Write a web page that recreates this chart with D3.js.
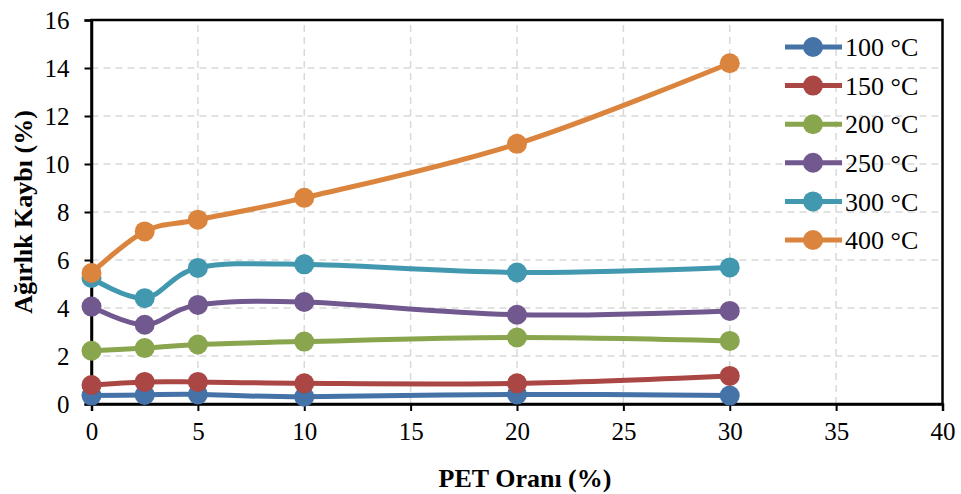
<!DOCTYPE html>
<html>
<head>
<meta charset="utf-8">
<script src="https://cdn.jsdelivr.net/npm/d3@7/dist/d3.min.js"></script>
<style>
  html, body { margin: 0; padding: 0; background: #fff; }
  svg { display: block; }
  svg text { font-family: "Liberation Serif", "Times New Roman", Tinos, "DejaVu Serif", serif !important; fill: #000; }
</style>
</head>
<body>
<svg id="chart" width="961" height="494"></svg>
<script>
// PET content (%) on the x axis
const petRatio = [0, 2.5, 5, 10, 20, 30];

// Weight loss (%) per temperature
const loss100 = [0.35, 0.38, 0.40, 0.30, 0.40, 0.35];
const loss150 = [0.79, 0.92, 0.92, 0.86, 0.86, 1.17];
const loss200 = [2.22, 2.33, 2.48, 2.60, 2.77, 2.63];
const loss250 = [4.06, 3.30, 4.13, 4.25, 3.72, 3.88];
const loss300 = [5.25, 4.41, 5.67, 5.82, 5.48, 5.69];
const loss400 = [5.46, 7.19, 7.68, 8.59, 10.84, 14.20];

const seriesNames = ["100 °C", "150 °C", "200 °C", "250 °C", "300 °C", "400 °C"];
const seriesColors = ["#4572A7", "#AA4643", "#89A54E", "#71588F", "#4198AF", "#DB843D"];

const xTicks = [0, 5, 10, 15, 20, 25, 30, 35, 40];
const yTicks = [0, 2, 4, 6, 8, 10, 12, 14, 16];

const xTitle = "PET Oranı (%)";
const yTitle = "Ağırlık Kaybı (%)";

const series = [loss100, loss150, loss200, loss250, loss300, loss400].map((vals, i) => ({
  name: seriesNames[i],
  color: seriesColors[i],
  points: vals.map((v, j) => ({ x: petRatio[j], y: v }))
}));

const svg = d3.select("#chart");
const margin = { left: 91.5, right: 18.5, top: 20, bottom: 90 };
const W = 961, H = 494;
const innerW = W - margin.left - margin.right;
const innerH = H - margin.top - margin.bottom;

const x = d3.scaleLinear().domain([0, 40]).range([margin.left, margin.left + innerW]);
const y = d3.scaleLinear().domain([0, 16]).range([margin.top + innerH, margin.top]);

// dashed gridlines
const grid = svg.append("g").attr("stroke", "#d9d9d9").attr("stroke-width", 1.5)
  .attr("stroke-dasharray", "7,5");
grid.selectAll("line.h").data(yTicks.filter(t => t > 0 && t < 16)).join("line")
  .attr("x1", x(0)).attr("x2", x(40)).attr("y1", d => y(d)).attr("y2", d => y(d));
grid.selectAll("line.v").data(xTicks.filter(t => t > 0 && t < 40)).join("line")
  .attr("y1", y(0)).attr("y2", y(16)).attr("x1", d => x(d)).attr("x2", d => x(d));

// frame
svg.append("rect")
  .attr("x", x(0)).attr("y", y(16)).attr("width", x(40) - x(0)).attr("height", y(0) - y(16))
  .attr("fill", "none").attr("stroke", "#000").attr("stroke-width", 2.5);

// axes
const xAxis = svg.append("g").attr("transform", `translate(0,${y(0)})`)
  .call(d3.axisBottom(x).tickValues(xTicks).tickSize(7).tickPadding(11).tickFormat(d3.format("d")));
const yAxis = svg.append("g").attr("transform", `translate(${x(0)},0)`)
  .call(d3.axisLeft(y).tickValues(yTicks).tickSize(7).tickPadding(15).tickFormat(d3.format("d")));
[xAxis, yAxis].forEach(a => {
  a.attr("font-family", null);
  a.select(".domain").attr("stroke", "#000").attr("stroke-width", 2.5);
  a.selectAll(".tick line").attr("stroke", "#000").attr("stroke-width", 2);
  a.selectAll(".tick text").attr("font-size", 25);
});

// series lines (smoothed) and markers
const line = d3.line().x(d => x(d.x)).y(d => y(d.y)).curve(d3.curveCardinal.tension(0));
const sg = svg.append("g");
series.forEach(s => {
  sg.append("path").attr("d", line(s.points)).attr("fill", "none")
    .attr("stroke", s.color).attr("stroke-width", 5).attr("stroke-linejoin", "round");
});
series.forEach(s => {
  sg.selectAll(null).data(s.points).join("circle")
    .attr("cx", d => x(d.x)).attr("cy", d => y(d.y)).attr("r", 10).attr("fill", s.color);
});

// legend
const lg = svg.append("g").attr("transform", "translate(785,47)");
series.forEach((s, i) => {
  const g = lg.append("g").attr("transform", `translate(0,${i * 38.6})`);
  g.append("line").attr("x1", 0).attr("x2", 57).attr("stroke", s.color).attr("stroke-width", 5);
  g.append("circle").attr("cx", 28).attr("r", 10).attr("fill", s.color);
  g.append("text").attr("x", 60).attr("dy", "0.35em").attr("font-size", 26).text(s.name);
});

// axis titles
svg.append("text").attr("x", 525).attr("y", 487)
  .attr("text-anchor", "middle").attr("font-weight", "bold").attr("font-size", 26).text(xTitle);
svg.append("text").attr("transform", `translate(32,212) rotate(-90)`)
  .attr("text-anchor", "middle").attr("font-weight", "bold").attr("font-size", 26).text(yTitle);
</script>
</body>
</html>
